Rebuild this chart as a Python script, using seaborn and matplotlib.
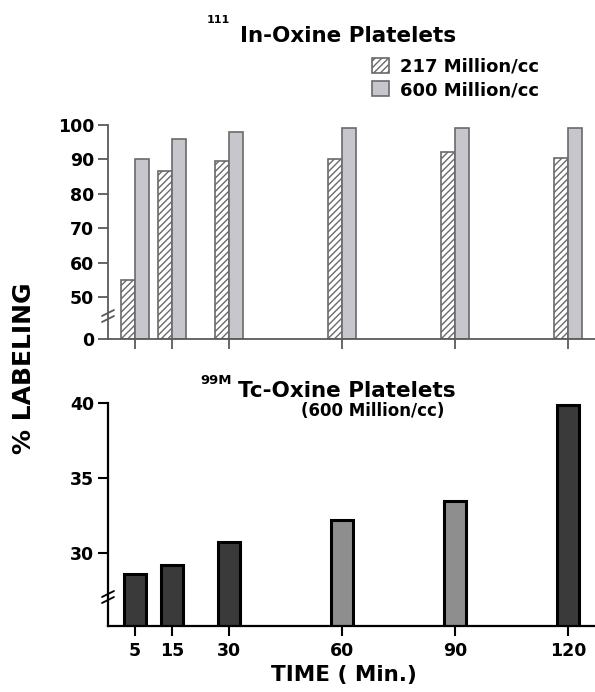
import numpy as np
import pandas as pd
import matplotlib
matplotlib.use('Agg')
import matplotlib.pyplot as plt
from matplotlib.lines import Line2D
import seaborn as sns

# data
times = [5, 15, 30, 60, 90, 120]
in_217 = [55, 86.5, 89.5, 90, 92, 90.5]
in_600 = [90, 96, 98, 99, 99, 99]
tc_600 = [28.6, 29.2, 30.75, 32.2, 33.5, 39.9]
tc_shade = ['dark', 'dark', 'dark', 'light', 'light', 'dark']
conc_labels = ['217 Million/cc', '600 Million/cc']
top_ticks = [0, 50, 60, 70, 80, 90, 100]
bottom_ticks = [30, 35, 40]

df_top = pd.DataFrame({
    'time': times * 2,
    'value': in_217 + in_600,
    'conc': [conc_labels[0]] * len(times) + [conc_labels[1]] * len(times),
})
df_bot = pd.DataFrame({'time': times, 'value': tc_600, 'shade': tc_shade})

sns.set_style('ticks')
plt.rcParams['font.family'] = ['DejaVu Sans']
plt.rcParams['hatch.linewidth'] = 1.0
plt.rcParams['text.color'] = 'black'
plt.rcParams['xtick.color'] = 'black'
plt.rcParams['ytick.color'] = 'black'

W, H = 595, 692
fig = plt.figure(figsize=(W / 100, H / 100), dpi=100)


def fx(x):
    return x / W


def fy(y):
    return 1 - y / H


# broken axis 0 | 50..100
GAP = 12.1


def fwd(v):
    v = np.asarray(v, dtype=float)
    return np.where(v < 50, v * GAP / 50, v - 50 + GAP)


def inv(u):
    u = np.asarray(u, dtype=float)
    return np.where(u < GAP, u * 50 / GAP, u + 50 - GAP)


xlim = (-2.1, 127.2)

# ---- top panel
ax1 = fig.add_axes([fx(108), fy(339.3), fx(595) - fx(108), fy(124.7) - fy(339.3)])
sns.barplot(data=df_top, x='time', y='value', hue='conc', native_scale=True,
            width=0.74, dodge=True, palette=['white', '#c6c6cc'],
            edgecolor='#6a6a6a', linewidth=1.2, errorbar=None, legend=False,
            saturation=1, ax=ax1)
for bar in ax1.containers[0]:
    bar.set_hatch('/////')
ax1.set_yscale('function', functions=(fwd, inv))
ax1.set_ylim(0, 100)
ax1.set_xlim(*xlim)
ax1.set_yticks(top_ticks)
ax1.set_yticklabels([str(t) for t in top_ticks])
ax1.set_xticks(times)
ax1.set_xticklabels([])
ax1.set_xlabel('')
ax1.set_ylabel('')
sns.despine(ax=ax1)
for s in ['left', 'bottom']:
    ax1.spines[s].set_color('#5a5a5a')
    ax1.spines[s].set_linewidth(1.3)
ax1.tick_params(axis='both', colors='#5a5a5a', width=1.3, length=7)
ax1.tick_params(axis='y', labelcolor='black', labelsize=12.5, pad=3)
for lab in ax1.get_yticklabels():
    lab.set_fontweight('bold')

ax1.legend(handles=[ax1.containers[0][0], ax1.containers[1][0]], labels=conc_labels,
           loc='upper left', bbox_to_anchor=(fx(368), fy(54)), bbox_transform=fig.transFigure,
           frameon=False, handlelength=0.95, handleheight=0.9, handletextpad=0.6,
           labelspacing=0.3, borderaxespad=0, borderpad=0.2,
           prop={'size': 13, 'weight': 'bold'})

# ---- bottom panel
ax2 = fig.add_axes([fx(108), fy(625.7), fx(595) - fx(108), fy(403.3) - fy(625.7)])
sns.barplot(data=df_bot, x='time', y='value', hue='shade', native_scale=True,
            width=0.58, dodge=False, palette={'dark': '#3a3a3a', 'light': '#8e8e8e'},
            edgecolor='black', linewidth=2.2, errorbar=None, legend=False,
            saturation=1, ax=ax2)
ax2.set_ylim(25.17, 40)
ax2.set_xlim(*xlim)
ax2.set_yticks(bottom_ticks)
ax2.set_xticks(times)
ax2.set_xticklabels([str(t) for t in times])
ax2.set_xlabel('')
ax2.set_ylabel('')
sns.despine(ax=ax2)
for s in ['left', 'bottom']:
    ax2.spines[s].set_color('black')
    ax2.spines[s].set_linewidth(1.6)
ax2.tick_params(axis='both', width=1.5, length=7, labelsize=12.5)
ax2.tick_params(axis='x', pad=5)
ax2.tick_params(axis='y', pad=3)
for lab in ax2.get_yticklabels() + ax2.get_xticklabels():
    lab.set_fontweight('bold')


# axis break marks
def brk(x, y, color):
    for dy in (-3, 3):
        fig.add_artist(Line2D([fx(x - 6), fx(x + 6)], [fy(y + dy + 3), fy(y + dy - 3)],
                              color=color, lw=1.3))


brk(108, 316, '#5a5a5a')
brk(108, 597, 'black')

# titles and labels
fig.text(fx(230), fy(20), '111', fontsize=8, weight='bold', va='center', ha='right')
fig.text(fx(240), fy(36), 'In-Oxine Platelets', fontsize=15.5, weight='bold', va='center', ha='left')
fig.text(fx(232), fy(380), '99M', fontsize=9.5, weight='bold', va='center', ha='right')
fig.text(fx(238), fy(391), 'Tc-Oxine Platelets', fontsize=15.5, weight='bold', va='center', ha='left')
fig.text(fx(373), fy(411), '(600 Million/cc)', fontsize=12, weight='bold', va='center', ha='center')
fig.text(fx(24), fy(368), '% LABELING', fontsize=18, weight='bold', rotation=90,
         va='center', ha='center')
fig.text(fx(344), fy(675), 'TIME ( Min.)', fontsize=15.5, weight='bold', va='center', ha='center')

fig.savefig('out.png', dpi=100)
